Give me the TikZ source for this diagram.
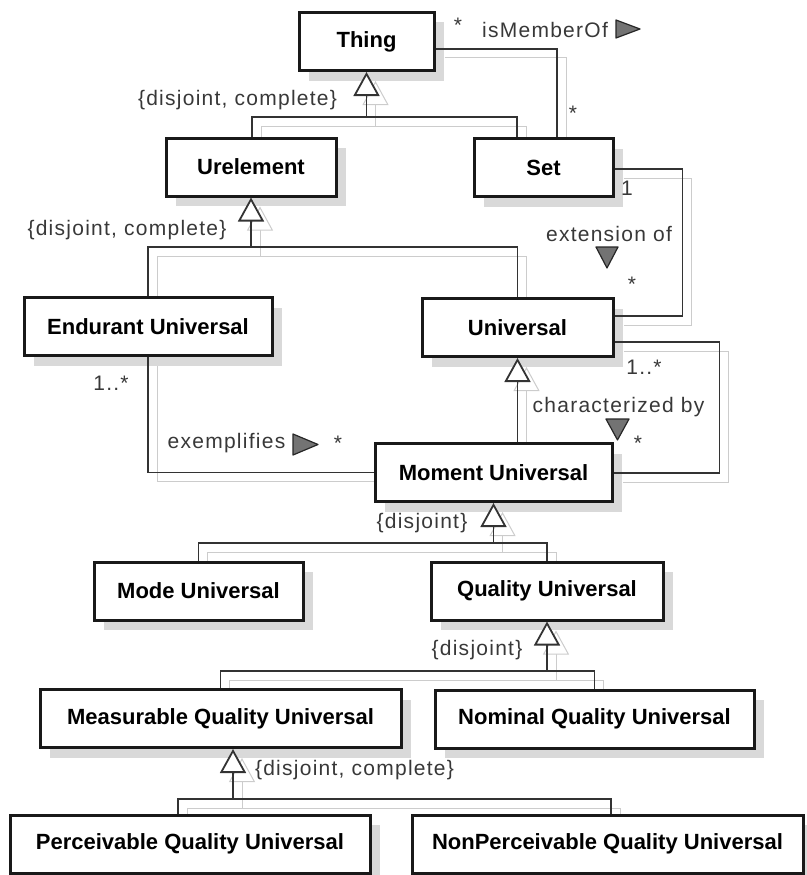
\documentclass[tikz,border=0pt]{standalone}
\usepackage{fontspec}
\setmainfont{Liberation Sans}
\newfontfamily\lblfont{Liberation Sans}[LetterSpace=6]
\usetikzlibrary{arrows.meta,calc,shadows}
\pgfdeclarelayer{background}
\pgfsetlayers{background,main}
\newcommand\umlconns{%
  % Thing generalization
  \draw[gen] ($(urel.north)+(1,0)$) |- (j1) -- (thing.south);
  \draw[conn] ($(set.north)+(-26.5,0)$) |- (j1);
  % Urelement generalization
  \draw[gen] (endu.north) |- (j2) -- (urel.south);
  \draw[conn] (univ.north) |- (j2);
  % Moment -> Universal
  \draw[gen] (univ.south |- mom.north) -- (univ.south);
  % Moment generalization
  \draw[gen] (mode.north) |- (j4) -- (mom.south);
  \draw[conn] (qual.north) |- (j4);
  % Quality generalization
  \draw[gen] (meas.north) |- (j5) -- (qual.south);
  \draw[conn] (nomi.north) |- (j5);
  % Measurable generalization
  \draw[gen] ($(perc.north)+(-12,0)$) |- (j6) -- ($(meas.south)+(12.5,0)$);
  \draw[conn] ($(nonp.north)+(3.5,0)$) |- (j6);
  % associations
  \draw[conn] ($(thing.east)+(0,7.5)$) -| ($(set.north)+(13.5,0)$);
  \draw[conn] ($(set.east)+(0,1.5)$) -| ($(univ.east)+(68,-11.5)$) -- ($(univ.east)+(0,-11.5)$);
  \draw[conn] ($(univ.east)+(0,14.5)$) -| ($(mom.east)+(106,0.5)$) -- ($(mom.east)+(0,0.5)$);
  \draw[conn] (endu.south) |- (mom.west);
}
\begin{document}
\begin{tikzpicture}[x=1pt,y=-1pt,
  box/.style={draw=black!90, line width=3pt, fill=white,
    font=\fontsize{22}{26}\selectfont\bfseries, inner sep=0pt,
    minimum height=58pt,
    drop shadow={shadow xshift=10pt, shadow yshift=-10pt, fill=black!15, opacity=1}},
  conn/.style={draw=black!80, line width=1.8pt},
  gen/.style={conn, -{Triangle[length=24pt, width=26pt, fill=white]}},
  lbl/.style={font=\lblfont\fontsize{21}{24}\selectfont, text=black!78, inner sep=0pt},
  navtri/.style={fill=black!55, draw=black!85, line width=1.2pt, line join=round}]
\path[use as bounding box] (0,0) rectangle (806,875);

\node[box, minimum width=135pt] (thing) at (366.5,41.5) {Thing};
\node[box, minimum width=139pt] (set) at (543.5,167.5) {Set};
\node[box, minimum width=170pt] (urel) at (251,167) {Urelement};
\node[box, minimum width=248pt] (endu) at (148,326.5) {Endurant Universal};
\node[box, minimum width=191pt] (univ) at (517.5,327.5) {Universal};
\node[box, minimum width=237pt] (mom) at (493.5,472.5) {Moment Universal};
\node[box, minimum width=209pt] (mode) at (198.5,591) {Mode Universal};
\node[box, minimum width=232pt] (qual) at (547,591) {Quality Universal};
\node[box, minimum width=361pt] (meas) at (220.5,718.5) {Measurable Quality Universal};
\node[box, minimum width=319pt] (nomi) at (594.5,719) {Nominal Quality Universal};
\node[box, minimum width=360pt] (perc) at (190,844) {Perceivable Quality Universal};
\node[box, minimum width=391pt] (nonp) at (607.5,844) {NonPerceivable Quality Universal};

\coordinate (j1) at (366.5,117);
\coordinate (j2) at (251,247);
\coordinate (j4) at (493.5,543);
\coordinate (j5) at (547,671);
\coordinate (j6) at (233,799);

\begin{pgfonlayer}{background}
\begin{scope}[transform canvas={shift={(9,9)}},
  conn/.style={draw=black!20, line width=1pt}]
\umlconns
\end{scope}
\end{pgfonlayer}

\umlconns

\filldraw[navtri] (616,20) -- (640,29) -- (616,38) -- cycle;
\filldraw[navtri] (596,247) -- (618,247) -- (607,268) -- cycle;
\filldraw[navtri] (606,419) -- (629,419) -- (617.5,440) -- cycle;
\filldraw[navtri] (293,434) -- (318,444.5) -- (293,455) -- cycle;

\node[lbl] (lstar1) at (458,25) {*};
\node[lbl, anchor=west] (lmem) at (482,30) {isMemberOf};
\node[lbl] (lstar2) at (573,113) {*};
\node[lbl] (lone) at (627,188) {1};
\node[lbl] (lext) at (609,234) {extension of};
\node[lbl] (lstar3) at (632,284) {*};
\node[lbl] (lm1) at (644,367) {1..*};
\node[lbl] (lchar) at (618.5,407) {characterized by};
\node[lbl] (lstar4) at (638,443) {*};
\node[lbl] (lm2) at (111,383) {1..*};
\node[lbl] (lexem) at (226.5,443) {exemplifies};
\node[lbl] (lstar5) at (338,443) {*};
\node[lbl] (ldc1) at (237.5,100) {\{disjoint, complete\}};
\node[lbl] (ldc2) at (127,230) {\{disjoint, complete\}};
\node[lbl] (ld3) at (422,523) {\{disjoint\}};
\node[lbl] (ld4) at (477,650) {\{disjoint\}};
\node[lbl] (ldc5) at (354.5,770) {\{disjoint, complete\}};
\end{tikzpicture}
\end{document}
